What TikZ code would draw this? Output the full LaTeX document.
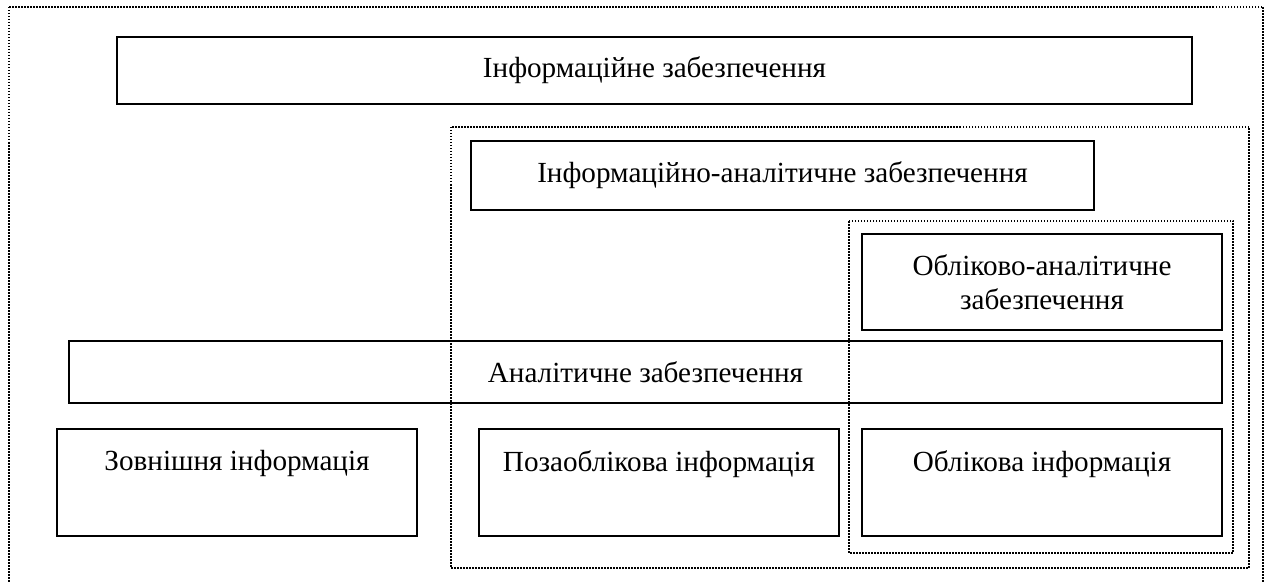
\documentclass[tikz,border=0pt]{standalone}
\usepackage{fontspec}
\setmainfont{Liberation Serif}
\tikzset{
  pbox/.style 2 args={draw, line width=1pt, minimum width=#1*0.48pt, minimum height=#2*0.48pt, inner sep=2pt, align=center},
  frame/.style={line width=0.75pt, dash pattern=on 0.72pt off 0.72pt}
}
\begin{document}
\begin{tikzpicture}[x=0.48pt, y=-0.48pt, font=\fontsize{14}{16.1}\selectfont]
\useasboundingbox (0,0) rectangle (1266,583);

\draw[frame] (9,7) rectangle (1263,590);
\draw[frame] (451,127) rectangle (1249,568);
\draw[frame] (849,221) rectangle (1233,553);

\node[pbox={1075}{67}] (info) at (654.5,70.5) {Інформаційне забезпечення};
\node[pbox={623}{69}] (infoan) at (782.5,175.5) {Інформаційно-аналітичне забезпечення};
\node[pbox={360}{96}] (oblan) at (1042,282) {Обліково-аналітичне\\забезпечення};
\node[pbox={1153}{62}] (analit) at (645.5,372) {Аналітичне забезпечення};

\node[pbox={360}{107}] (zovn) at (237,482.5) {Зовнішня інформація\\\strut};
\node[pbox={360}{107}] (pozaobl) at (659,482.5) {Позаоблікова інформація\\\strut};
\node[pbox={360}{107}] (obl) at (1042,482.5) {Облікова інформація\\\strut};

\end{tikzpicture}
\end{document}
